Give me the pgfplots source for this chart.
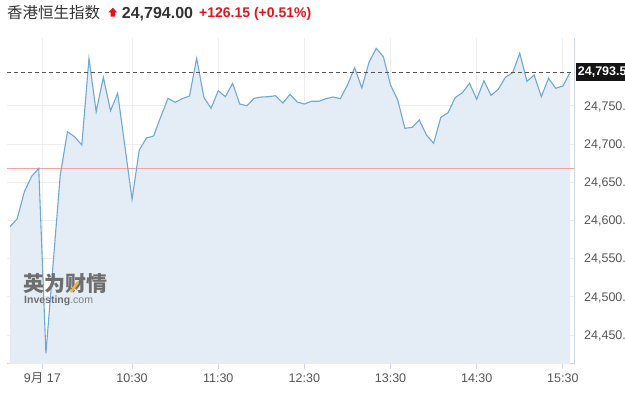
\documentclass[border=0pt]{standalone}
\usepackage{fontspec}
\setmainfont{Liberation Sans}
\newfontfamily\cjk{Noto Sans CJK SC}
\usepackage{pgfplots}
\pgfplotsset{compat=1.18}
\usepackage{pgfplotstable}
\definecolor{linec}{HTML}{6FA7D8}
\definecolor{fillc}{HTML}{E4EDF5}
\definecolor{redl}{HTML}{F4A3A3}
\definecolor{dashc}{HTML}{555555}
\definecolor{gridc}{HTML}{EEEEEE}
\definecolor{axisc}{HTML}{CCD6EB}
\definecolor{labc}{HTML}{555555}
\definecolor{titc}{HTML}{333333}
\definecolor{redc}{HTML}{E3141B}
\definecolor{wmc}{HTML}{6E6E6E}
\definecolor{wmo}{HTML}{F2B33D}

\pgfplotstableread{
i v
0 24591.7
1 24602.0
2 24637.5
3 24657.4
4 24668.1
5 24426.0
6 24542.6
7 24659.3
8 24716.0
9 24709.4
10 24698.6
11 24812.0
12 24742.1
13 24787.2
14 24743.5
15 24766.2
16 24696.9
17 24627.5
18 24692.0
19 24707.7
20 24710.4
21 24735.6
22 24759.7
23 24754.4
24 24759.2
25 24762.7
26 24812.0
27 24761.0
28 24746.6
29 24769.6
30 24761.8
31 24779.3
32 24752.2
33 24750.0
34 24759.7
35 24761.4
36 24761.8
37 24763.1
38 24753.5
39 24764.9
40 24754.8
41 24752.2
42 24755.8
43 24755.8
44 24759.2
45 24761.4
46 24759.2
47 24777.1
48 24799.7
49 24773.2
50 24806.8
51 24825.1
52 24814.1
53 24777.1
54 24757.5
55 24720.4
56 24721.7
57 24731.3
58 24711.7
59 24700.8
60 24734.8
61 24740.8
62 24760.5
63 24767.0
64 24779.3
65 24758.4
66 24782.7
67 24763.6
68 24771.5
69 24787.2
70 24793.2
71 24818.6
72 24781.9
73 24790.2
74 24761.8
75 24785.9
76 24772.8
77 24775.8
78 24793.5
}\hsi

\begin{document}
\begin{tikzpicture}
\useasboundingbox (0pt,0pt) rectangle (625pt,405pt);
\clip (0pt,0pt) rectangle (625pt,405pt);
\begin{axis}[
  at={(7pt,41pt)}, anchor=south west,
  scale only axis, width=567pt, height=326pt,
  xmin=-0.418, xmax=78.55, ymin=24412, ymax=24838.6,
  axis x line*=bottom, axis y line*=right,
  axis line style={draw=axisc, line width=1pt, -},
  grid=major, grid style={draw=gridc, line width=0.8pt},
  tick align=outside, major tick length=5pt,
  xtick style={draw=axisc, line width=1pt},
  ytick style={draw=none},
  xtick={4.5,17,29,41,53,65,77},
  xticklabels={{9{\cjk 月} 17},10:30,11:30,12:30,13:30,14:30,15:30},
  ytick={24450,24500,24550,24600,24650,24700,24750},
  scaled y ticks=false,
  /pgf/number format/assume math mode=true,
  yticklabel style={/pgf/number format/fixed, /pgf/number format/fixed zerofill, /pgf/number format/precision=1, /pgf/number format/1000 sep={,}},
  yticklabel style={anchor=west, inner sep=0pt, xshift=5pt, text height=8.6pt, text depth=0pt, text=labc, font=\fontsize{12.5}{14}\selectfont},
  xticklabel style={anchor=north, inner sep=0pt, yshift=-4.3pt, text height=9pt, text depth=2pt, text=labc, font=\fontsize{12.5}{14}\selectfont},
  clip=true,
]
\addplot[fill=fillc, draw=none] table[x=i,y=v]{\hsi} -- (axis cs:78,24412) -- (axis cs:0,24412) -- cycle;
\addplot[color=redl, line width=0.9pt] coordinates {(-0.418,24667.85) (78.55,24667.85)};
\addplot[color=linec, line width=1.1pt] table[x=i,y=v]{\hsi};
\addplot[color=dashc, line width=1.2pt, dash pattern=on 4pt off 3pt] coordinates {(-0.418,24793.5) (78.55,24793.5)};
\coordinate (lab) at (axis cs:78.55,24793.5);
\end{axis}
\node[anchor=west, xshift=1.7pt, fill=black!92, text=white, inner xsep=2pt, inner ysep=0pt, minimum height=18pt, font=\bfseries\fontsize{12.5}{14}\selectfont] at (lab) {24,793.5};
% title
\node[anchor=base west, inner sep=0pt, text=titc, font=\cjk\fontsize{15.5}{18}\selectfont] at (7pt,386.5pt) {香港恒生指数};
\fill[redc] (108.3pt,392.5pt) -- (112.8pt,397.3pt) -- (117.3pt,392.5pt) -- (115pt,392.5pt) -- (115pt,388.3pt) -- (110.6pt,388.3pt) -- (110.6pt,392.5pt) -- cycle;
\node[anchor=base west, inner sep=0pt, text=titc, font=\bfseries\fontsize{16}{18}\selectfont] at (121.7pt,386.7pt) {24,794.00};
\node[anchor=base west, inner sep=0pt, text=redc, font=\bfseries\fontsize{14}{16}\selectfont] at (199pt,387.7pt) {+126.15 (+0.51\%)};
% watermark
\node[anchor=base west, inner sep=0pt, text=wmc, font=\cjk\bfseries\fontsize{21}{22}\selectfont] at (23pt,113.5pt) {英为财情};
\draw[wmo, line width=2.6pt] (71pt,113pt) -- (78pt,123pt);
\node[anchor=base west, inner sep=0pt, text=wmc, font=\fontsize{10.5}{12}\selectfont] at (24pt,101.7pt) {\textbf{Investing}{\color{gray}.com}};
\end{tikzpicture}
\end{document}
